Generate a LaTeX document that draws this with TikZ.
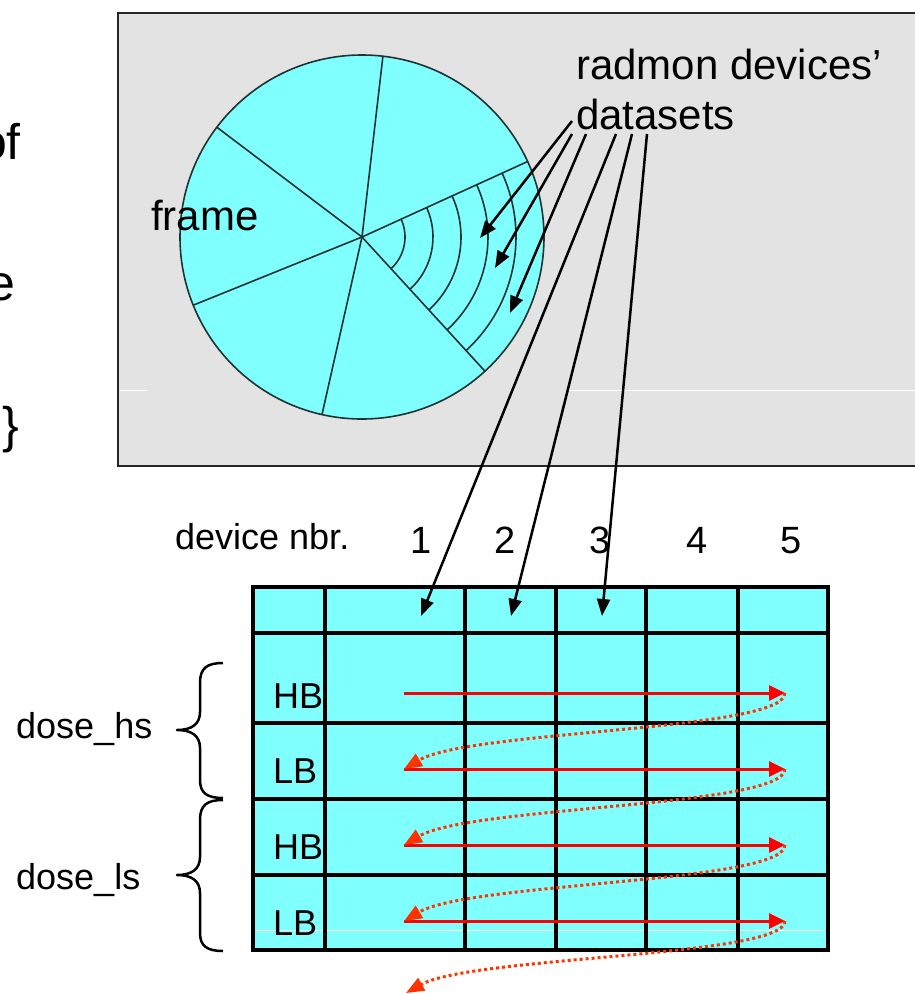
\documentclass[tikz,border=0pt]{standalone}
\usepackage{fontspec}
\setmainfont{Liberation Sans}
\usetikzlibrary{arrows.meta,calc}
\definecolor{cyanfill}{HTML}{80FFFF}
\definecolor{boxgray}{HTML}{E3E3E3}
\definecolor{dotred}{HTML}{FF3300}
\definecolor{circline}{HTML}{1F3333}
\newcommand\FontTop{\fontsize{42}{50}\selectfont}
\newcommand\FontBot{\fontsize{36}{43}\selectfont}
\newcommand\FontNum{\fontsize{38}{45}\selectfont}
\newcommand\FontCut{\fontsize{50}{60}\selectfont}
\begin{document}
\begin{tikzpicture}[x=1pt,y=-1pt,
  lbl/.style={inner sep=0pt, anchor=base west},
  numlbl/.style={inner sep=0pt, anchor=base, font=\FontNum},
  ptr/.style={line width=2.5pt, -{Triangle[length=17pt,width=13pt]}},
  redarr/.style={red, line width=3pt, -{Triangle[length=16pt,width=15pt]}},
  dotarr/.style={dotred, line width=3pt, dash pattern=on 3pt off 3pt, -{Triangle[length=18pt,width=14pt]}},
  gridline/.style={line width=4pt},
  circstroke/.style={draw=circline, line width=1.6pt},
  bracestroke/.style={line width=2.5pt, line join=round}]
\useasboundingbox (0,0) rectangle (915,994);
\fill[white] (0,0) rectangle (915,994);

% clipped text fragments at left edge
\node[inner sep=0pt, anchor=base east, font=\FontCut] (cutof) at (21,159) {of};
\node[inner sep=0pt, anchor=base east, font=\FontCut] (cute) at (16,300) {e};
\node[inner sep=0pt, anchor=base east, font=\FontCut] (cutbr) at (19,442) {\}};

% grey frame box
\draw[fill=boxgray, line width=2.5pt, draw=black!85] (118,13) rectangle (925,466);
\draw[white, line width=1pt] (120,390) -- (147,390);
\draw[white, line width=1pt] (566,390) -- (915,390);

% circle (frame)
\coordinate (c) at (362,237);
\draw[fill=cyanfill, circstroke] (c) circle[radius=182pt];
\foreach \a in {83.4,142.9,202,257.3,-47.5,24.5}
  \draw[circstroke] (c) -- ++(\a:182pt);
\foreach \r in {43,71,99,126,154}
  \draw[circstroke] (c) ++(24.5:\r pt) arc[start angle=24.5, end angle=-47.5, radius=\r pt];

\node[lbl, font=\FontTop] (frame) at (151,230) {frame};
\node[lbl, font=\FontTop] (radmon) at (576,79) {radmon devices’};
\node[lbl, font=\FontTop] (datasets) at (576,129) {datasets};

% pointer start and end coordinates
\coordinate (s1) at (572,121);
\coordinate (s2) at (572,134);
\coordinate (s3) at (586,134);
\coordinate (s4) at (616,134);
\coordinate (s5) at (632,134);
\coordinate (s6) at (647,134);
\coordinate (e1) at (480,238);
\coordinate (e2) at (495,268);
\coordinate (e3) at (510,313);
\coordinate (e4) at (421,616);
\coordinate (e5) at (511,616);
\coordinate (e6) at (602,616);

% table
\fill[cyanfill] (253,587) rectangle (828,950);
\draw[white, line width=1pt] (256,930) -- (825,930);
\foreach \x in {325,465,556,646,738}
  \draw[gridline] (\x,587) -- (\x,950);
\foreach \y in {633,723,799,875}
  \draw[gridline] (253,\y) -- (828,\y);
\draw[gridline] (253,587) rectangle (828,950);

\foreach \i in {1,...,6}
  \draw[ptr] (s\i) -- (e\i);

% header labels
\node[lbl, font=\FontBot] (devnbr) at (175,549) {device nbr.};
\node[numlbl] (n1) at (421,553) {1};
\node[numlbl] (n2) at (505,553) {2};
\node[numlbl] (n3) at (600,553) {3};
\node[numlbl] (n4) at (697,553) {4};
\node[numlbl] (n5) at (791,553) {5};

% row labels
\node[lbl, font=\FontBot] (hb1) at (273,708) {HB};
\node[lbl, font=\FontBot] (lb1) at (273,783) {LB};
\node[lbl, font=\FontBot] (hb2) at (273,859) {HB};
\node[lbl, font=\FontBot] (lb2) at (273,935) {LB};

% red arrows
\coordinate (a1) at (404,693); \coordinate (b1) at (785,693);
\coordinate (a2) at (404,769); \coordinate (b2) at (785,769);
\coordinate (a3) at (404,845); \coordinate (b3) at (785,845);
\coordinate (a4) at (404,921); \coordinate (b4) at (785,921);
\coordinate (a5) at (406,993);
\foreach \i in {1,...,4}
  \draw[redarr] (a\i) -- (b\i);
\draw[dotarr] (b1) .. controls ($(b1)+(0,38)$) and ($(a2)+(66,-39)$) .. (a2);
\draw[dotarr] (b2) .. controls ($(b2)+(0,38)$) and ($(a3)+(66,-39)$) .. (a3);
\draw[dotarr] (b3) .. controls ($(b3)+(0,38)$) and ($(a4)+(66,-39)$) .. (a4);
\draw[dotarr] (b4) .. controls ($(b4)+(0,36)$) and ($(a5)+(66,-37)$) .. (a5);

% braces
\coordinate (br1) at (177,730);
\coordinate (br2) at (177,875);
\draw[bracestroke] (223,663) .. controls (207,663) and (200,668) .. (200,683)
  -- (200,712) .. controls (200,724) and (192,730) .. (br1)
  .. controls (192,730) and (200,736) .. (200,748)
  -- (200,780) .. controls (200,793) and (207,798) .. (223,798);
\draw[bracestroke] (223,800) .. controls (207,800) and (200,805) .. (200,820)
  -- (200,857) .. controls (200,869) and (192,875) .. (br2)
  .. controls (192,875) and (200,881) .. (200,893)
  -- (200,933) .. controls (200,946) and (207,951) .. (223,951);
\node[lbl, font=\FontBot] (dosehs) at (16,738) {dose\_hs};
\node[lbl, font=\FontBot] (dosels) at (16,889) {dose\_ls};
\end{tikzpicture}
\end{document}
